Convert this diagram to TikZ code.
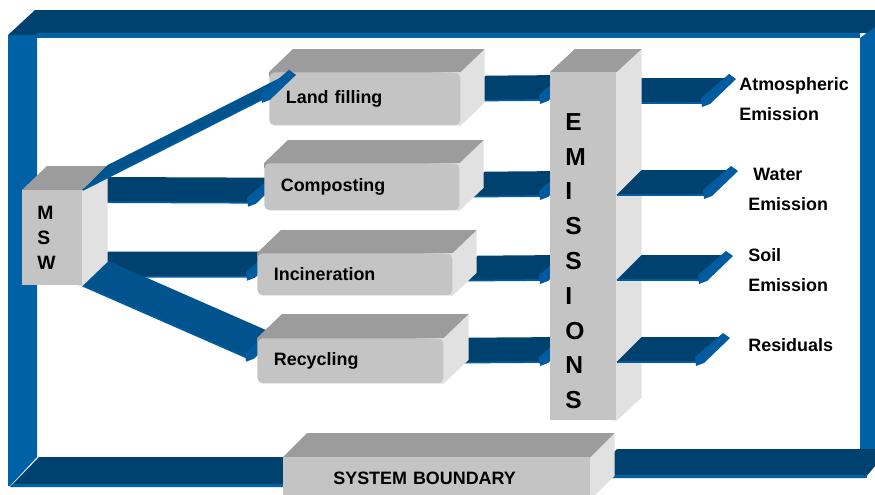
\documentclass[tikz,border=0pt]{standalone}
\usepackage{fontspec}
\setmainfont{Liberation Sans}
\usetikzlibrary{positioning,calc}

\definecolor{navy}{HTML}{00426F}
\definecolor{frameblue}{HTML}{0061A6}
\definecolor{slantblue}{HTML}{00538D}
\definecolor{tipblue}{HTML}{005B9F}
\definecolor{topgray}{HTML}{9C9C9C}
\definecolor{frontgray}{HTML}{C4C4C4}
\definecolor{sidegray}{HTML}{E1E1E1}

\pgfdeclarelayer{frame}
\pgfdeclarelayer{arrows}
\pgfdeclarelayer{faces}
\pgfsetlayers{frame,arrows,faces,main}

\tikzset{
  frontface/.style={fill=frontgray, anchor=north west, inner ysep=0pt, align=left,
    font=\fontsize{10.2}{12}\selectfont\bfseries},
  procbox/.style={frontface, rounded corners=3pt, inner xsep=0.33cm},
  lbl/.style={anchor=north west, inner sep=0pt, align=left,
    font=\fontsize{10.2}{17}\selectfont\bfseries},
  shaft/.style={fill=navy},
  slantshaft/.style={fill=slantblue},
  arrowtip/.style={fill=tipblue},
  shaftline/.style={draw=tipblue, line width=1pt},
  facetop/.style={fill=topgray},
  faceside/.style={fill=sidegray},
}

% top and side of a box, #2,#3 = depth
\newcommand\cubefaces[3]{%
  \fill[faceside] (#1.north east) -- ++(#2,#3) -- ($(#1.south east)+(#2,#3)$) -- (#1.south east) -- ($(#1.south east)+(-5,0)$) -- ($(#1.north east)+(-5,0)$) -- cycle;
  \fill[facetop] ($(#1.north west)+(0,5)$) -- (#1.north west) -- ++(#2,#3) -- ($(#1.north east)+(#2,#3)$) -- (#1.north east) -- cycle;}

% flat arrow from #2 to #3
\newcommand\flatarrow[3]{%
  \fill[#1] (#2) -- (#3) -- ($(#3)+(25,-25)$) -- ($(#2)+(25,-25)$) -- cycle;
  \draw[shaftline] (#2) -- (#3);
  \fill[arrowtip] ($(#3)+(-2,-5)$) -- ($(#3)+(-1,4)$) -- ($(#3)+(7,1)$) -- ($(#3)+(33,-24)$) -- ($(#3)+(26,-29)$) -- cycle;}

\begin{document}
\begin{tikzpicture}[x=0.02cm, y=-0.02cm]
\useasboundingbox (0,0) rectangle (875,494);

% Boxes
\node[frontface, minimum width=1.2cm, minimum height=1.9cm, text width=0.6cm, inner xsep=0.3cm,
  font=\fontsize{11}{14.5}\selectfont\bfseries] (msw) at (22,190) {M\\S\\W};
\node[procbox, minimum width=3.82cm, minimum height=1.06cm, text width=3.16cm] (land) at (269,72) {Land filling};
\node[procbox, minimum width=3.9cm, minimum height=0.94cm, text width=3.24cm] (comp) at (264,163) {Composting};
\node[procbox, minimum width=3.9cm, minimum height=0.84cm, text width=3.24cm] (inc) at (257,253) {Incineration};
\node[procbox, minimum width=3.72cm, minimum height=0.9cm, text width=3.06cm] (rec) at (257,338) {Recycling};
\node[frontface, minimum width=1.32cm, minimum height=6.96cm] (emis) at (550,72) {};
\node[lbl, below right=0.82cm and 0.3cm of emis.north west, font=\fontsize{14}{19.8}\selectfont\bfseries]
  (emis-t) {E\\M\\I\\S\\S\\I\\O\\N\\S};
\node[frontface, minimum width=6.14cm, minimum height=0.84cm, text width=4.14cm, inner xsep=1cm] (sysb) at (283,457) {SYSTEM BOUNDARY};

% Outputs
\node[lbl] (atm) at (739,77) {Atmospheric\\Emission};
\node[lbl] (water) at (748,168) {\ Water\\Emission};
\node[lbl] (soil) at (748,248) {Soil\\Emission};
\node[lbl] (res) at (748,338) {Residuals};

\begin{pgfonlayer}{faces}
  \cubefaces{msw}{25}{-24}
  \cubefaces{land}{24}{-23}
  \cubefaces{comp}{24}{-23}
  \cubefaces{inc}{24}{-23}
  \cubefaces{rec}{25}{-24}
  \cubefaces{emis}{25}{-23}
  \cubefaces{sysb}{24}{-24}
\end{pgfonlayer}

% System boundary frame
\begin{pgfonlayer}{frame}
  \fill[frameblue] (8,35) -- (37,35) -- (37,457) -- (10,486) -- (8,486) -- cycle;
  \fill[navy] (8,35) -- (35,10) -- (875,10) -- (875,33) -- (37,33) -- (37,35) -- cycle;
  \fill[frameblue] (37,33) rectangle (860,38);
  \fill[frameblue] (860,38) -- (875,27) -- (875,449) -- (860,449) -- cycle;
  \fill[navy] (590,478) -- (617,449) -- (875,449) -- (875,466) -- (865,478) -- cycle;
  \fill[frameblue] (592,475) rectangle (867,478);
  \fill[navy] (10,487) -- (39,457) -- (305,457) -- (282,487) -- cycle;
  \fill[frameblue] (13,484) rectangle (284,487);
\end{pgfonlayer}

% MSW to processes
\coordinate (msw-a) at ($(msw.north east)+(0,12)$);
\coordinate (msw-b) at ($(msw.south east)+(0,-9)$);
\coordinate (land-in) at ($(land.west)+(-6,0)$);
\coordinate (comp-in) at ($(comp.south west)+(-15,-8)$);
\coordinate (inc-in) at ($(inc.south west)+(-9,-19)$);
\coordinate (rec-in) at ($(rec.south west)+(-10,-26)$);
% processes to emissions
\coordinate (land-out) at ($(land.south east)+(0,-25)$);
\coordinate (comp-out) at ($(comp.south east)+(0,-14)$);
\coordinate (inc-out) at ($(inc.south east)+(0,-15)$);
\coordinate (rec-out) at ($(rec.south east)+(0,-21)$);
\coordinate (emis-1) at ($(emis.north west)+(-9,28)$);
\coordinate (emis-2) at ($(emis.north west)+(-9,124)$);
\coordinate (emis-3) at ($(emis.north west)+(-9,208)$);
\coordinate (emis-4) at ($(emis.north west)+(-9,290)$);
% emissions to outputs
\coordinate (emis-5) at ($(emis.north east)+(0,31)$);
\coordinate (emis-6) at ($(emis.north east)+(0,123)$);
\coordinate (emis-7) at ($(emis.north east)+(0,208)$);
\coordinate (emis-8) at ($(emis.north east)+(0,290)$);
\coordinate (atm-in) at ($(atm.north west)+(-36,26)$);
\coordinate (water-in) at ($(water.north west)+(-43,27)$);
\coordinate (soil-in) at ($(soil.north west)+(-48,32)$);
\coordinate (res-in) at ($(res.north west)+(-51,24)$);

\begin{pgfonlayer}{arrows}
  \flatarrow{shaft}{msw-a}{comp-in}
  \flatarrow{shaft}{msw-b}{inc-in}
  \flatarrow{slantshaft}{msw.south east}{rec-in}
  \flatarrow{shaft}{land-out}{emis-1}
  \flatarrow{shaft}{comp-out}{emis-2}
  \flatarrow{shaft}{inc-out}{emis-3}
  \flatarrow{shaft}{rec-out}{emis-4}
  \flatarrow{shaft}{emis-5}{atm-in}
\end{pgfonlayer}
\flatarrow{slantshaft}{msw.north east}{land-in}
\flatarrow{shaft}{emis-6}{water-in}
\flatarrow{shaft}{emis-7}{soil-in}
\flatarrow{shaft}{emis-8}{res-in}
\end{tikzpicture}
\end{document}
